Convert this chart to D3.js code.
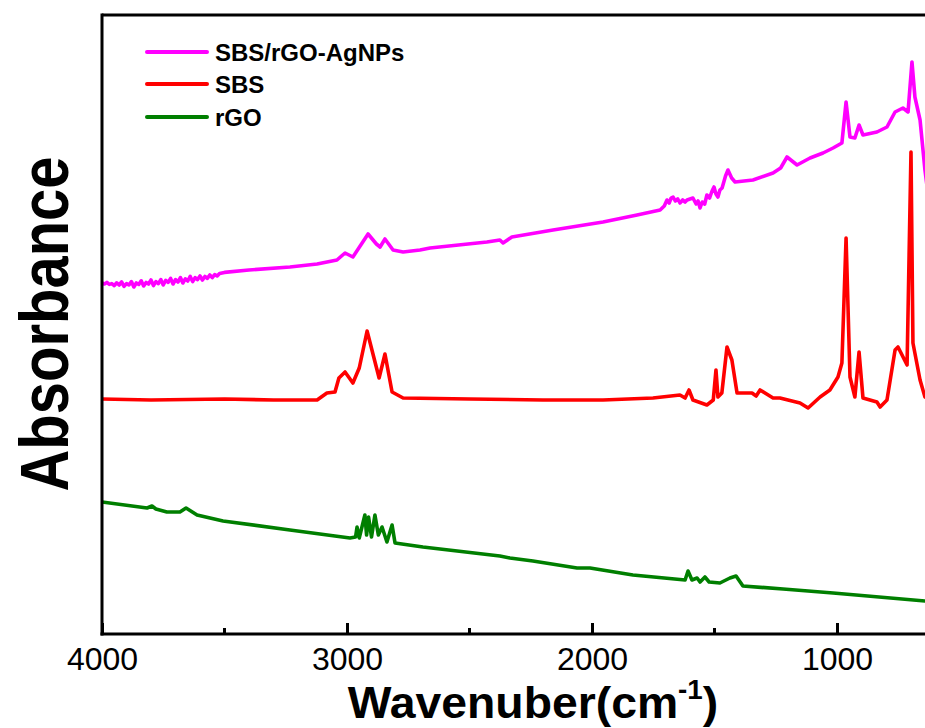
<!DOCTYPE html>
<html>
<head>
<meta charset="utf-8">
<script src="https://cdn.jsdelivr.net/npm/d3@7"></script>
<style>
  html, body { margin: 0; padding: 0; background: #fff; }
  svg { display: block; }
  text { font-family: "Liberation Sans", Arial, sans-serif; }
</style>
</head>
<body>
<svg id="chart" width="925" height="728"></svg>
<script>
// ---- data (wavenumber cm^-1, absorbance a.u.) ----
const seriesNames = ["SBS/rGO-AgNPs", "SBS", "rGO"];
const seriesColors = ["#ff00ff", "#ff0000", "#007f00"];
const xTickValues = [4000, 3000, 2000, 1000];
const xMinorTicks = [3500, 2500, 1500];

const sbsRgoAgnps = [
  [4000,1.755],[3990,1.750],[3980,1.758],[3970,1.748],[3960,1.752],[3950,1.742],
  [3940,1.756],[3930,1.745],[3920,1.760],[3910,1.738],[3900,1.752],[3890,1.745],
  [3880,1.762],[3870,1.735],[3860,1.755],[3850,1.748],[3840,1.766],[3830,1.740],
  [3820,1.758],[3810,1.750],[3800,1.770],[3790,1.742],[3780,1.762],[3770,1.752],
  [3760,1.772],[3750,1.745],[3740,1.768],[3730,1.758],[3720,1.778],[3710,1.750],
  [3700,1.772],[3690,1.760],[3680,1.782],[3670,1.755],[3660,1.776],[3650,1.765],
  [3640,1.788],[3630,1.762],[3620,1.782],[3610,1.772],[3600,1.790],[3590,1.770],
  [3580,1.788],[3570,1.778],[3560,1.795],[3550,1.782],[3540,1.797],[3530,1.790],
  [3520,1.803],[3500,1.808],[3400,1.820],[3233,1.835],[3122,1.850],[3041,1.870],
  [3008,1.905],[2976,1.885],[2914,2.000],[2880,1.950],[2865,1.935],[2845,1.975],
  [2812,1.920],[2771,1.910],[2702,1.920],[2661,1.930],[2429,1.960],[2376,1.970],
  [2363,1.955],[2327,1.985],[2159,2.020],[1955,2.060],[1816,2.095],[1722,2.120],
  [1705,2.140],[1694,2.170],[1685,2.155],[1677,2.180],[1669,2.185],[1660,2.165],
  [1650,2.175],[1641,2.155],[1630,2.170],[1620,2.160],[1612,2.170],[1600,2.175],
  [1588,2.180],[1575,2.150],[1567,2.165],[1559,2.130],[1550,2.160],[1540,2.150],
  [1531,2.195],[1520,2.180],[1510,2.215],[1502,2.235],[1494,2.200],[1486,2.185],
  [1478,2.220],[1469,2.230],[1455,2.290],[1445,2.320],[1430,2.280],[1416,2.260],
  [1343,2.270],[1261,2.305],[1230,2.330],[1204,2.385],[1163,2.345],[1110,2.380],
  [1057,2.405],[1016,2.430],[980,2.455],[963,2.660],[947,2.485],[927,2.480],
  [910,2.545],[894,2.495],[837,2.510],[796,2.535],[763,2.610],[731,2.630],
  [710,2.610],[694,2.860],[682,2.685],[661,2.570],[641,2.320],[620,2.120],[600,1.900]
];

const sbs = [
  [4000,1.175],[3800,1.170],[3500,1.175],[3300,1.170],[3122,1.170],[3082,1.205],
  [3049,1.210],[3033,1.280],[3008,1.310],[2976,1.255],[2950,1.330],[2918,1.515],
  [2869,1.280],[2845,1.400],[2816,1.210],[2771,1.180],[2500,1.175],[2200,1.170],
  [1955,1.170],[1751,1.180],[1641,1.195],[1620,1.180],[1604,1.220],[1588,1.170],
  [1531,1.145],[1505,1.170],[1494,1.320],[1486,1.185],[1470,1.205],[1449,1.435],
  [1429,1.370],[1408,1.205],[1347,1.205],[1330,1.190],[1314,1.220],[1261,1.180],
  [1233,1.180],[1151,1.155],[1118,1.130],[1069,1.185],[1029,1.220],[996,1.285],
  [980,1.355],[963,1.980],[947,1.285],[927,1.185],[910,1.410],[894,1.180],
  [837,1.160],[824,1.135],[796,1.170],[763,1.420],[751,1.435],[714,1.345],
  [698,2.410],[690,1.455],[661,1.270],[641,1.185],[600,1.170]
];

const rgo = [
  [4000,0.660],[3816,0.630],[3796,0.640],[3780,0.625],[3735,0.610],[3682,0.610],
  [3657,0.630],[3612,0.595],[3506,0.565],[3233,0.520],[2988,0.480],[2965,0.485],
  [2959,0.535],[2950,0.480],[2927,0.595],[2920,0.495],[2912,0.585],[2900,0.485],
  [2886,0.595],[2872,0.495],[2857,0.535],[2837,0.460],[2816,0.545],[2804,0.455],
  [2690,0.435],[2376,0.390],[2335,0.380],[2241,0.365],[2061,0.330],[2008,0.330],
  [1833,0.295],[1620,0.270],[1608,0.315],[1592,0.270],[1571,0.280],[1559,0.260],
  [1539,0.285],[1522,0.260],[1478,0.255],[1437,0.280],[1412,0.290],[1384,0.240],
  [1220,0.225],[1016,0.205],[641,0.165],[600,0.160]
];

const allSeries = [sbsRgoAgnps, sbs, rgo];

// ---- layout ----
const svg = d3.select("#chart");
const plotLeft = 102, plotTop = 15, plotBottom = 634;

const x = d3.scaleLinear().domain([4000, 400]).range([plotLeft, plotLeft + 3600 * 0.245]);
const y = d3.scaleLinear().domain([0, 3.095]).range([plotBottom, plotTop]);

svg.append("defs").append("clipPath").attr("id", "plotclip")
  .append("rect").attr("x", plotLeft).attr("y", plotTop)
  .attr("width", 925 - plotLeft).attr("height", plotBottom - plotTop);

// curves
const line = d3.line().x(d => x(d[0])).y(d => y(d[1])).curve(d3.curveLinear);
const plot = svg.append("g").attr("clip-path", "url(#plotclip)");
allSeries.forEach((s, i) => {
  plot.append("path").datum(s)
    .attr("d", line)
    .attr("fill", "none")
    .attr("stroke", seriesColors[i])
    .attr("stroke-width", 3.6)
    .attr("stroke-linejoin", "round")
    .attr("stroke-linecap", "round");
});

// frame (top and left)
svg.append("line").attr("x1", plotLeft).attr("x2", 925).attr("y1", plotTop).attr("y2", plotTop)
  .attr("stroke", "#000").attr("stroke-width", 3);
svg.append("line").attr("x1", plotLeft).attr("x2", plotLeft)
  .attr("y1", plotTop - 1.5).attr("y2", plotBottom + 1.5)
  .attr("stroke", "#000").attr("stroke-width", 3);

// x axis
const xAxis = d3.axisBottom(x).tickValues(xTickValues).tickFormat(d3.format("d"))
  .tickSizeInner(-11).tickSizeOuter(0).tickPadding(13);
const gx = svg.append("g").attr("transform", `translate(0,${plotBottom})`).call(xAxis);
gx.select(".domain").remove();
gx.append("line").attr("x1", plotLeft - 1.5).attr("x2", 925).attr("y1", 0).attr("y2", 0)
  .attr("stroke", "#000").attr("stroke-width", 3);
gx.selectAll(".tick line").attr("stroke", "#000").attr("stroke-width", 3);
gx.selectAll(".tick text").attr("fill", "#000").attr("font-size", 32)
  .attr("font-family", "'Liberation Sans', Arial, sans-serif");

// minor ticks
gx.selectAll(".minor").data(xMinorTicks).enter().append("line")
  .attr("class", "minor")
  .attr("x1", d => x(d)).attr("x2", d => x(d))
  .attr("y1", 0).attr("y2", -6)
  .attr("stroke", "#000").attr("stroke-width", 3);

// x title
const xt = svg.append("text")
  .attr("text-anchor", "middle")
  .attr("font-weight", "bold")
  .attr("font-size", 45)
  .attr("transform", "translate(533,718) scale(1.03,1)");
xt.append("tspan").text("Wavenuber(cm");
xt.append("tspan").attr("font-size", 27).attr("dy", -19).text("-1");
xt.append("tspan").attr("dy", 19).text(")");

// y title
svg.append("text")
  .attr("text-anchor", "middle")
  .attr("font-weight", "bold")
  .attr("font-size", 58)
  .attr("transform", "translate(68,324) rotate(-90) scale(1,1.18)")
  .text("Absorbance");

// legend
const legendY = [52, 84, 117];
const lg = svg.append("g");
seriesNames.forEach((name, i) => {
  lg.append("line").attr("x1", 147).attr("x2", 207)
    .attr("y1", legendY[i]).attr("y2", legendY[i])
    .attr("stroke", seriesColors[i]).attr("stroke-width", 4).attr("stroke-linecap", "round");
  lg.append("text").attr("x", 215).attr("y", legendY[i] + 8.5)
    .attr("font-size", 24).attr("font-weight", "bold").attr("fill", "#000")
    .text(name);
});
</script>
</body>
</html>
